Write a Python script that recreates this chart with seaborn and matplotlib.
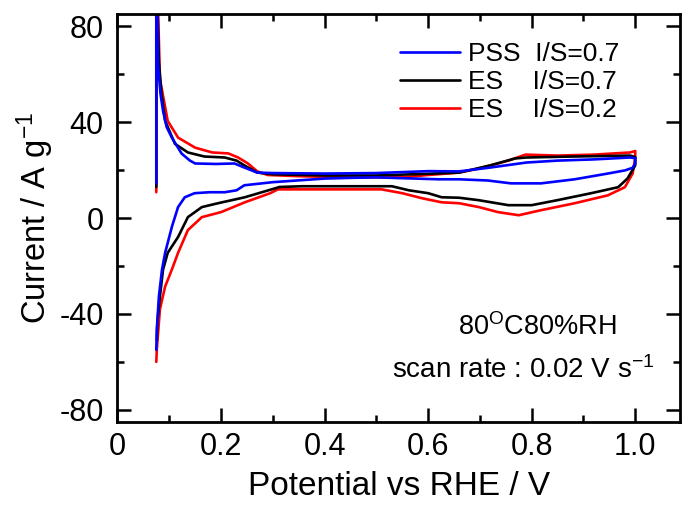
import numpy as np
import pandas as pd
import matplotlib
matplotlib.use("Agg")
import matplotlib.pyplot as plt
import seaborn as sns
from matplotlib.ticker import MultipleLocator

# ---- data (potential V, current A/g) ----
pss_x = [0.075, 0.075, 0.077, 0.078, 0.083, 0.088, 0.095, 0.105, 0.124, 0.14, 0.15, 0.19, 0.226, 0.245, 0.27,
         0.3, 0.4, 0.5, 0.6, 0.66, 0.72, 0.79, 0.85, 0.92, 0.99, 1.0,
         1.0, 0.995, 0.98, 0.947, 0.883, 0.818, 0.76, 0.715, 0.66, 0.62, 0.5, 0.45, 0.4, 0.3, 0.245, 0.23,
         0.207, 0.178, 0.149, 0.13, 0.117, 0.105, 0.092, 0.086, 0.08, 0.076, 0.075]
pss_y = [14.5, 100, 90, 65, 52, 44.8, 38, 33.6, 26.9, 24, 22.8, 22.6, 22.8, 21.1, 19,
         18.8, 18.6, 18.8, 19.6, 19.5, 21.1, 23.2, 24, 24.5, 25.3, 25,
         22.8, 21, 19.9, 18.6, 16.2, 14.5, 14.5, 15.7, 16.2, 16.2, 17, 16.8, 16.5, 15, 13.7, 11.6,
         10.8, 10.8, 10.4, 8.7, 4.6, -3.7, -14.5, -21.5, -32.7, -46.4, -55]

es07_x = [0.075, 0.075, 0.077, 0.08, 0.085, 0.092, 0.111, 0.136, 0.168, 0.207, 0.23, 0.245, 0.27,
          0.3, 0.4, 0.5, 0.6, 0.66, 0.72, 0.768, 0.79, 0.88, 0.99, 1.0,
          1.0, 0.985, 0.967, 0.915, 0.85, 0.8, 0.755, 0.697, 0.66, 0.626, 0.6, 0.563, 0.53, 0.4, 0.357,
          0.313, 0.304, 0.246, 0.194, 0.163, 0.136, 0.117, 0.097, 0.088, 0.082, 0.077, 0.076]
es07_y = [13, 100, 90, 65, 52, 40.6, 31, 27.4, 25.7, 25.3, 24, 22, 19,
          18.3, 17.8, 17.8, 18.5, 19, 22, 24.9, 25.3, 25.7, 26.1, 25.5,
          22, 16.5, 12.9, 10.4, 7.5, 5.4, 5.4, 7.5, 8.5, 8.7, 10.4, 11.6, 13.3, 13.3, 13.3,
          13, 12.4, 8.7, 6.2, 4.6, 0.4, -7.9, -14.5, -21.5, -32.7, -43.5, -51]

es02_x = [0.075, 0.075, 0.078, 0.082, 0.097, 0.117, 0.15, 0.183, 0.214, 0.233, 0.252, 0.27, 0.29,
          0.35, 0.45, 0.55, 0.6, 0.66, 0.698, 0.755, 0.788, 0.85, 0.92, 0.99, 1.0,
          1.0, 0.995, 0.98, 0.947, 0.883, 0.818, 0.775, 0.735, 0.698, 0.66, 0.626, 0.588, 0.55, 0.51,
          0.4, 0.31, 0.295, 0.246, 0.2, 0.163, 0.136, 0.117, 0.105, 0.092, 0.082, 0.076, 0.075]
es02_y = [10.8, 100, 90, 58, 40.6, 33.6, 29.4, 27.4, 27, 25.3, 22.8, 19.5, 18,
          17.5, 17, 17, 18, 19, 20.7, 24, 26.5, 26.1, 26.5, 27.4, 28,
          25, 18.6, 12.9, 9.5, 6.2, 3.3, 1.2, 2.5, 4.6, 6.2, 6.6, 8.3, 10.4, 12,
          12, 12, 10.4, 6.6, 2.5, 0.4, -5, -14.5, -21.5, -28.6, -38, -54.7, -60]

labels = ["PSS  I/S=0.7", "ES    I/S=0.7", "ES    I/S=0.2"]
colors = ["#0000ff", "#000000", "#ff0000"]

xticks = [0, 0.2, 0.4, 0.6, 0.8, 1.0]
xticklabels = ["0", "0.2", "0.4", "0.6", "0.8", "1.0"]
yticks = [-80, -40, 0, 40, 80]

sns.set_style("ticks")
plt.rcParams["font.family"] = ["Liberation Sans", "DejaVu Sans"]
plt.rcParams["mathtext.fontset"] = "custom"
plt.rcParams["mathtext.rm"] = "Liberation Sans"
plt.rcParams["mathtext.it"] = "Liberation Sans"
plt.rcParams["axes.unicode_minus"] = False
plt.rcParams["text.color"] = "black"
plt.rcParams["axes.labelcolor"] = "black"
plt.rcParams["xtick.color"] = "black"
plt.rcParams["ytick.color"] = "black"
plt.rcParams["axes.edgecolor"] = "black"

fig = plt.figure(figsize=(6.83, 5.09), dpi=100)
ax = fig.add_axes([0.172, 0.170, 0.824, 0.803])

series = [(pss_x, pss_y), (es07_x, es07_y), (es02_x, es02_y)]
frames = []
for (xs, ys), lab in zip(series, labels):
    frames.append(pd.DataFrame({"E": xs, "I": ys, "sample": lab}))
df = pd.concat(frames, ignore_index=True)

for idx in [2, 1, 0]:
    sub = df[df["sample"] == labels[idx]]
    sns.lineplot(data=sub, x="E", y="I", sort=False, estimator=None, color=colors[idx],
                 lw=1.9, ax=ax, label=labels[idx])

ax.set_xlim(0, 1.087)
ax.set_ylim(-85.3, 85.3)
ax.set_xticks(xticks)
ax.set_xticklabels(xticklabels)
ax.set_yticks(yticks)
ax.xaxis.set_minor_locator(MultipleLocator(0.1))
ax.yaxis.set_minor_locator(MultipleLocator(20))
ax.tick_params(which="both", direction="in", top=True, right=True, width=1.8, labelsize=22)
ax.tick_params(which="major", length=10)
ax.tick_params(which="minor", length=5)
ax.tick_params(axis="x", pad=7)
ax.tick_params(axis="y", pad=10)
for s in ax.spines.values():
    s.set_linewidth(2.0)

ax.set_xlabel("Potential vs RHE / V", fontsize=24, labelpad=6)
ax.set_ylabel("Current / A g$^{-1}$", fontsize=23.5, labelpad=2)

h, l = ax.get_legend_handles_labels()
order = [l.index(lab) for lab in labels]
ax.legend([h[i] for i in order], [l[i] for i in order], loc="upper left",
          bbox_to_anchor=(0.502, 0.93), frameon=False, fontsize=19,
          handlelength=2.27, handletextpad=0.3, labelspacing=0.15, borderpad=0, borderaxespad=0)

ax.text(0.812, -45.5, "80$^{\\rm O}$C80%RH", fontsize=19.5, ha="center", va="center")
ax.text(0.783, -63.5, "scan rate : 0.02 V s$^{-1}$", fontsize=20, ha="center", va="center")

fig.savefig("out.png", dpi=100)
